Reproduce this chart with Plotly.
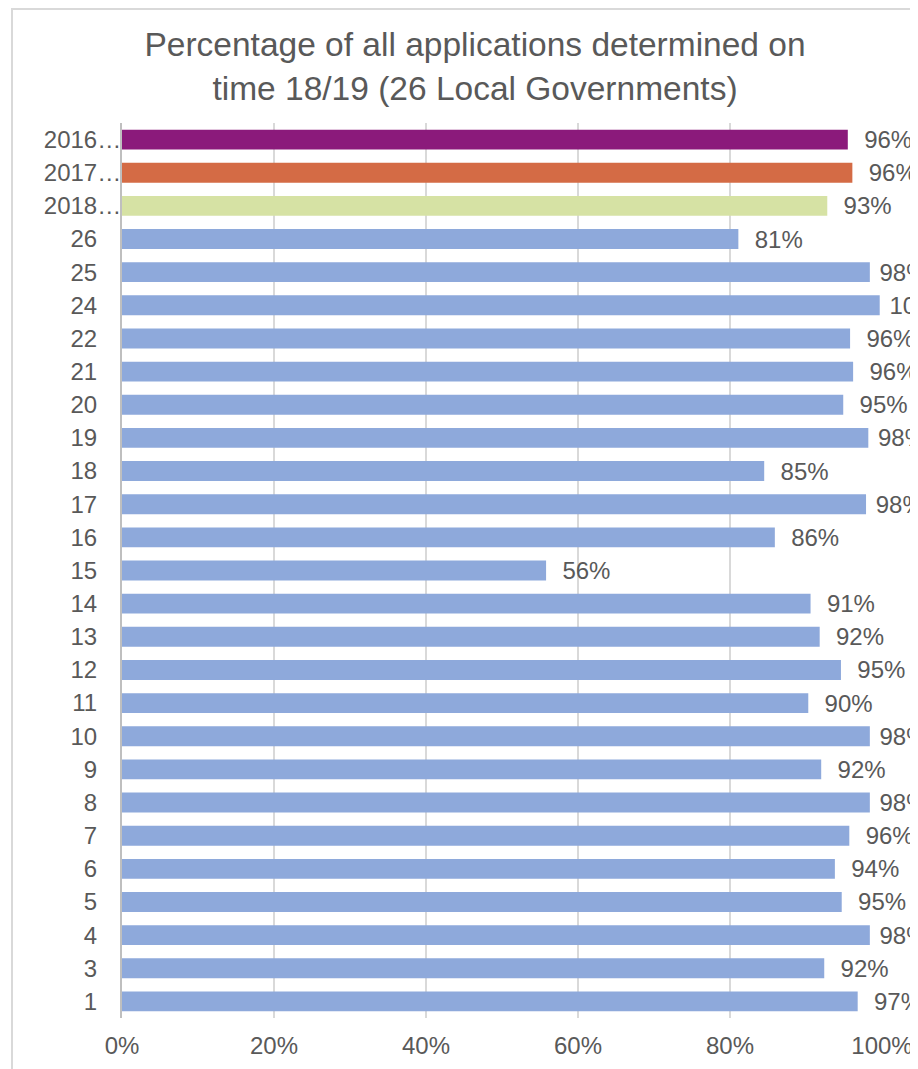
import plotly.graph_objects as go

# Categories from bottom to top
categories = ["1", "3", "4", "5", "6", "7", "8", "9", "10", "11", "12", "13", "14",
              "15", "16", "17", "18", "19", "20", "21", "22", "24", "25", "26",
              "2018…", "2017…", "2016…"]
values = [96.8, 92.4, 98.4, 94.7, 93.8, 95.7, 98.4, 92.0, 98.4, 90.3, 94.6, 91.8, 90.6,
          55.8, 85.9, 97.9, 84.5, 98.2, 94.9, 96.2, 95.8, 99.7, 98.4, 81.1,
          92.8, 96.1, 95.5]
bar_colors = ["#8EA9DB"] * 24 + ["#D6E2A4", "#D46B45", "#8B1A7B"]

x_ticks = [0, 20, 40, 60, 80, 100]
x_tick_text = ["0%", "20%", "40%", "60%", "80%", "100%"]

text_color = "#595959"
font_family = "Liberation Sans, Arial, sans-serif"

W, H = 910, 1061

# Labels near the chart's right edge sit closer to their bar (as Excel nudges them)
label_templates = ["\u00a0%{x:.0f}%" if v >= 97.5 else "\u00a0\u00a0%{x:.0f}%" for v in values]
# Truncated labels let their ellipsis overhang the alignment of the short labels
y_tick_text = [c if c.endswith("…") else c + "\u2003" for c in categories]

fig = go.Figure()
fig.add_trace(go.Bar(
    y=categories,
    x=values,
    orientation="h",
    marker=dict(color=bar_colors, line=dict(width=0)),
    texttemplate=label_templates,
    textposition="outside",
    constraintext="none",
    textfont=dict(size=24, color=text_color, family=font_family),
    cliponaxis=False,
    hoverinfo="skip",
))

fig.update_layout(
    width=W,
    height=H,
    paper_bgcolor="white",
    plot_bgcolor="white",
    margin=dict(l=114, r=36, t=115, b=51, autoexpand=False),
    bargap=0.4,
    showlegend=False,
    font=dict(family=font_family, color=text_color),
    title=dict(
        text="Percentage of all applications determined on<br>time 18/19 (26 Local Governments)",
        x=467 / W,
        xanchor="center",
        xref="container",
        y=1 - 48 / H,
        yanchor="middle",
        yref="container",
        font=dict(size=33.5, color=text_color, family=font_family),
    ),
    xaxis=dict(
        range=[0, 100],
        tickvals=x_ticks,
        ticktext=x_tick_text,
        tickfont=dict(size=24, color=text_color),
        showgrid=True,
        gridcolor="#D9D9D9",
        gridwidth=1.5,
        zeroline=False,
        showline=False,
        ticks="",
        ticklabelstandoff=11,
        automargin=False,
        fixedrange=True,
    ),
    yaxis=dict(
        type="category",
        categoryorder="array",
        categoryarray=categories,
        tickvals=categories,
        ticktext=y_tick_text,
        tickfont=dict(size=24, color=text_color),
        showgrid=False,
        showline=True,
        linecolor="#BFBFBF",
        linewidth=2,
        ticks="",
        ticklabelstandoff=-6,
        automargin=False,
        fixedrange=True,
    ),
    shapes=[
        dict(type="rect", xref="paper", yref="paper",
             x0=(4 - 114) / 760, x1=1.2, y0=-0.3, y1=(1010 - 1) / 895,
             line=dict(color="#D9D9D9", width=2), fillcolor="rgba(0,0,0,0)",
             layer="below"),
    ],
)

fig.write_html("out.html")
